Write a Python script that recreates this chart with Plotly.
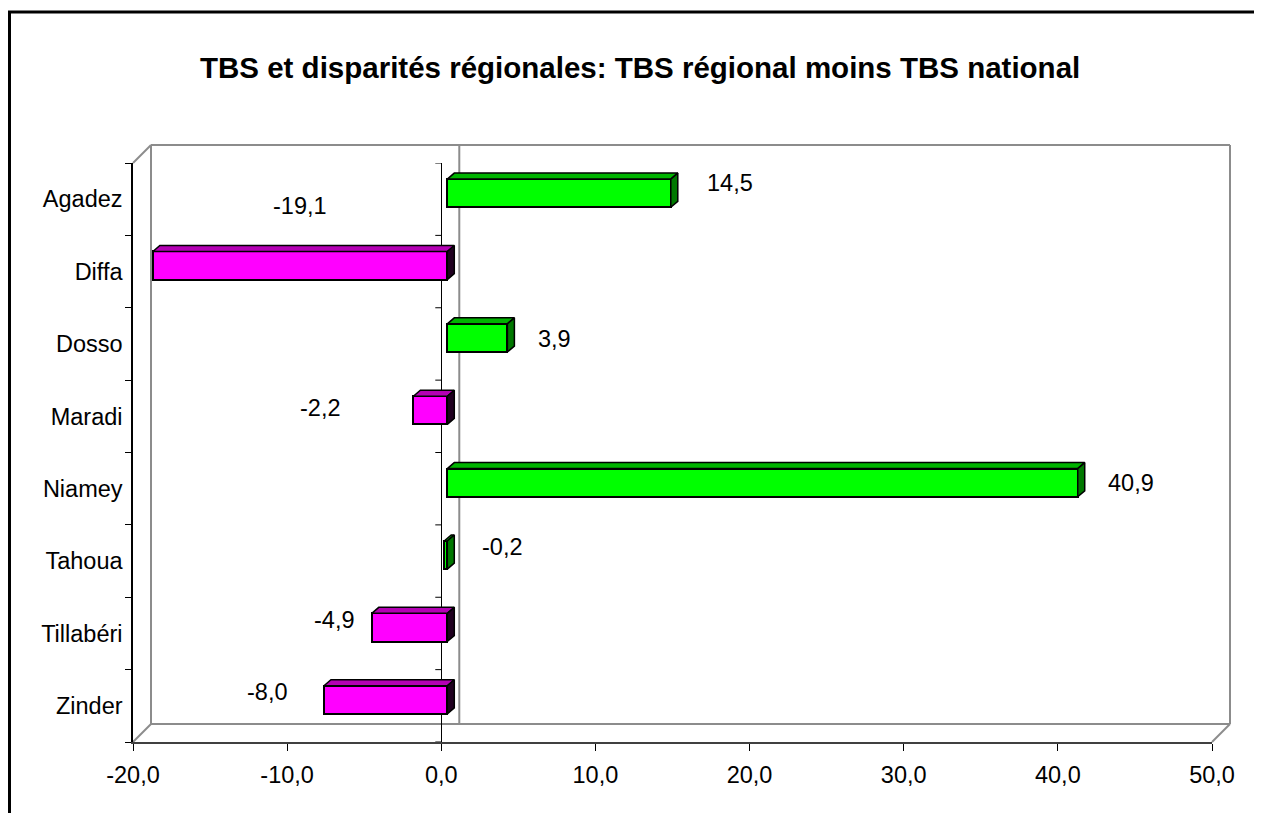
import plotly.graph_objects as go

# ---------------- data ----------------
categories = ["Agadez", "Diffa", "Dosso", "Maradi", "Niamey", "Tahoua", "Tillabéri", "Zinder"]
values = [14.5, -19.1, 3.9, -2.2, 40.9, -0.2, -4.9, -8.0]
x_tick_values = [-20, -10, 0, 10, 20, 30, 40, 50]
x_tick_labels = ["-20,0", "-10,0", "0,0", "10,0", "20,0", "30,0", "40,0", "50,0"]
title_text = "TBS et disparités régionales: TBS régional moins TBS national"

# ---------------- styles ----------------
GREEN, MAGENTA = "#00FF00", "#FF00FF"
bar_colors = [GREEN, MAGENTA, GREEN, MAGENTA, GREEN, GREEN, MAGENTA, MAGENTA]
top_colors = {GREEN: "#00B400", MAGENTA: "#B400B4"}
side_colors = {GREEN: "#007800", MAGENTA: "#200020"}
label_shifts = [(59, 10), (147, 60), (47, -1), (-93, 2), (53, 0), (58, 8), (-37, 7), (-56, 8)]
FONT = "Liberation Sans Narrow, Arial Narrow, Liberation Sans, Arial, sans-serif"
LABEL_SIZE = 23.5
TITLE_SIZE = 29.5

# ---------------- geometry (pixels) ----------------
OX, OY = 8, 8          # body margin of the page
W, H = 1246, 805
FX0, FX1 = 133, 1212   # front x-axis extent
FY0, FY1 = 163, 742    # front y-axis extent
XMIN, XMAX = -20, 50
DEPTH = 18             # back wall offset
BAR_OFF = 6            # bars sit slightly behind the front plane
FACE_DX, FACE_DY = 7, 6
BAR_W = 0.39

ppu = (FX1 - FX0) / (XMAX - XMIN)
band = (FY1 - FY0) / len(categories)


def px(x):
    return (x - OX) / W


def py(y):
    return 1 - (y - OY) / H


fig = go.Figure()

# front faces of bars
idx = list(range(len(categories)))
fig.add_trace(go.Bar(
    x=values, y=idx, orientation="h", width=BAR_W,
    marker=dict(color=bar_colors, line=dict(color="black", width=2)),
    xaxis="x2", yaxis="y2", hoverinfo="skip", showlegend=False,
))

fx = FACE_DX / ppu
fy = FACE_DY / band
for i, v in enumerate(values):
    x0, x1 = min(0, v), max(0, v)
    yt, yb = i - BAR_W / 2, i + BAR_W / 2
    c = bar_colors[i]
    # top face
    fig.add_trace(go.Scatter(
        x=[x0, x1, x1 + fx, x0 + fx, x0], y=[yt, yt, yt - fy, yt - fy, yt],
        mode="lines", fill="toself", fillcolor=top_colors[c],
        line=dict(color="black", width=1.5), xaxis="x2", yaxis="y2",
        hoverinfo="skip", showlegend=False))
    # side face
    fig.add_trace(go.Scatter(
        x=[x1, x1 + fx, x1 + fx, x1, x1], y=[yt, yt - fy, yb - fy, yb, yt],
        mode="lines", fill="toself", fillcolor=side_colors[c],
        line=dict(color="black", width=1.5), xaxis="x2", yaxis="y2",
        hoverinfo="skip", showlegend=False))

# data labels
annotations = []
for i, v in enumerate(values):
    dx, dy = label_shifts[i]
    annotations.append(dict(
        x=v, y=i, xref="x2", yref="y2", xshift=dx, yshift=dy,
        text=f"{v:.1f}".replace(".", ","), showarrow=False,
        font=dict(family=FONT, size=LABEL_SIZE, color="black")))

annotations.append(dict(
    x=px(640), y=py(67), xref="paper", yref="paper", xanchor="center", yanchor="middle",
    text=f"<b>{title_text}</b>", showarrow=False,
    font=dict(family=FONT, size=TITLE_SIZE, color="black")))

# ---------------- decoration shapes ----------------
shapes = []
gray = dict(color="#8C8C8C", width=2)


def seg(x0, y0, x1, y1, line, layer="below"):
    shapes.append(dict(type="line", xref="paper", yref="paper",
                       x0=px(x0), y0=py(y0), x1=px(x1), y1=py(y1), line=line, layer=layer))


BX0, BX1 = FX0 + DEPTH, FX1 + DEPTH
BY0, BY1 = FY0 - DEPTH, FY1 - DEPTH
seg(BX0, BY0, BX1, BY0, gray)
seg(BX1, BY0, BX1, BY1, gray)
seg(BX0, BY1, BX1, BY1, gray)
seg(BX0, BY0, BX0, BY1, gray)
seg(FX0, FY0, BX0, BY0, gray)
seg(FX0, FY1, BX0, BY1, gray)
seg(FX1, FY1, BX1, BY1, gray)
# back zero line
zx = FX0 + (0 - XMIN) * ppu + DEPTH
seg(zx, BY0, zx, BY1, gray)

# small ticks at the zero crossing
for k in range(len(categories) + 1):
    shapes.append(dict(type="line", xref="x", yref="y",
                       x0=-6 / ppu, x1=0, y0=k - 0.5, y1=k - 0.5,
                       line=dict(color="black", width=1), layer="above"))

# outer frame
shapes.append(dict(type="rect", xref="paper", yref="paper",
                   x0=px(9.5), y0=py(12), x1=px(1400), y1=py(1000),
                   line=dict(color="black", width=3), fillcolor="rgba(0,0,0,0)", layer="below"))

fig.update_layout(
    width=W, height=H, margin=dict(l=0, r=0, t=0, b=0, autoexpand=False),
    paper_bgcolor="white", plot_bgcolor="rgba(0,0,0,0)",
    showlegend=False, bargap=0,
    annotations=annotations, shapes=shapes,
    xaxis=dict(domain=[px(FX0), px(FX1)], range=[XMIN, XMAX], automargin=False,
               tickvals=x_tick_values, ticktext=x_tick_labels,
               ticks="outside", ticklen=7, tickcolor="black", tickwidth=1,
               ticklabelstandoff=4,
               showline=True, linecolor="#404040", linewidth=2,
               showgrid=False, zeroline=True, zerolinecolor="black", zerolinewidth=1,
               tickfont=dict(family=FONT, size=LABEL_SIZE, color="black"), anchor="y",
               fixedrange=True),
    yaxis=dict(domain=[py(FY1), py(FY0)], type="category", automargin=False,
               categoryorder="array", categoryarray=categories,
               tickvals=categories, ticktext=categories,
               range=[len(categories) - 0.5, -0.5],
               tickson="boundaries", ticks="outside", ticklen=6, tickcolor="black",
               ticklabelstandoff=4,
               showline=True, linecolor="black", linewidth=1.5, showgrid=False,
               tickfont=dict(family=FONT, size=LABEL_SIZE, color="black"), anchor="x",
               fixedrange=True),
    xaxis2=dict(overlaying="x", anchor="y2", visible=False, automargin=False,
                range=[XMIN - BAR_OFF / ppu, XMAX - BAR_OFF / ppu], fixedrange=True),
    yaxis2=dict(overlaying="y", anchor="x2", visible=False, automargin=False,
                range=[len(categories) - 0.5 + BAR_OFF / band, -0.5 + BAR_OFF / band],
                fixedrange=True),
)

fig.write_html("out.html")
